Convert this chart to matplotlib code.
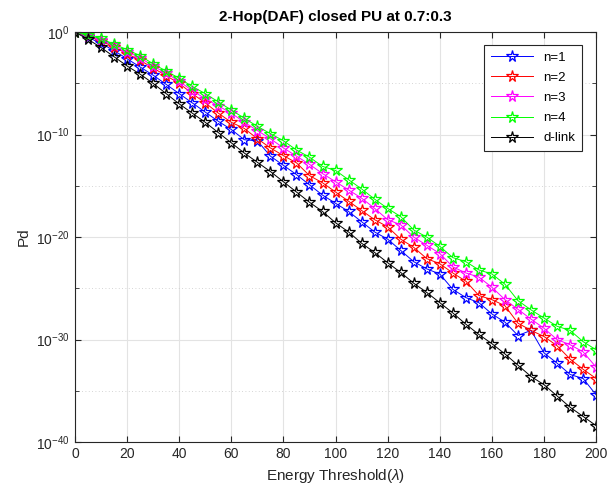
import numpy as np
import matplotlib
matplotlib.use('Agg')
import matplotlib.pyplot as plt
from matplotlib.ticker import FixedLocator, LogFormatterSciNotation, NullFormatter

plt.rcParams['font.family'] = ['Liberation Sans', 'DejaVu Sans']
plt.rcParams['mathtext.fontset'] = 'custom'
plt.rcParams['mathtext.rm'] = 'Liberation Sans'
plt.rcParams['mathtext.it'] = 'Liberation Sans:italic'

# energy threshold
lam = np.arange(0, 201, 5)

# log10(Pd)
pd_n1 = [0, -0.5, -1.1, -1.8, -2.6, -3.4, -4.2, -5.1, -6.0, -6.9, -7.8, -8.7, -9.5, -10.5,
         -10.6, -12.1, -13.0, -13.9, -14.9, -15.9, -16.7, -17.5, -18.5, -19.5, -20.2, -21.3,
         -22.4, -23.1, -23.6, -25.1, -25.9, -26.4, -27.5, -28.3, -29.6, -29.1, -31.3, -32.3,
         -33.4, -33.8, -35.4]
pd_n2 = [0, -0.4, -0.85, -1.45, -2.1, -2.75, -3.5, -4.25, -5.0, -6.0, -6.9, -7.9, -8.8, -9.4,
         -10.4, -11.3, -12.05, -12.75, -14.0, -14.7, -15.6, -16.5, -17.4, -18.3, -19.0, -20.2,
         -21.0, -22.1, -22.6, -23.5, -24.3, -25.7, -26.1, -26.7, -28.4, -29.1, -29.7, -30.6,
         -31.9, -32.9, -33.8]
pd_n3 = [0, -0.35, -0.75, -1.3, -1.9, -2.5, -3.3, -4.0, -4.8, -5.7, -6.5, -7.2, -7.9, -8.8,
         -9.6, -10.4, -11.3, -12.1, -12.9, -13.8, -14.6, -15.4, -16.2, -17.2, -18.3, -18.8,
         -20.0, -20.8, -21.6, -22.9, -23.5, -23.9, -24.9, -26.1, -27.05, -28.0, -28.9, -30.0,
         -30.5, -31.2, -32.7]
pd_n4 = [0, -0.3, -0.6, -1.2, -1.7, -2.3, -3.1, -3.8, -4.5, -5.3, -6.0, -6.8, -7.6, -8.4,
         -9.2, -9.9, -10.6, -11.5, -12.2, -13.1, -13.5, -14.4, -15.3, -16.3, -17.2, -18.0,
         -19.3, -20.0, -20.9, -22.0, -22.4, -23.2, -23.6, -24.6, -26.2, -27.1, -27.9, -28.7,
         -29.1, -30.2, -31.0]
pd_dlink = [0, -0.7, -1.5, -2.4, -3.3, -4.1, -5.0, -6.0, -7.0, -7.9, -8.8, -9.8, -10.8, -11.8,
            -12.7, -13.6, -14.6, -15.6, -16.6, -17.5, -18.6, -19.5, -20.6, -21.5, -22.5, -23.45,
            -24.5, -25.4, -26.4, -27.4, -28.5, -29.5, -30.4, -31.4, -32.5, -33.6, -34.4, -35.5,
            -36.6, -37.5, -38.4]

series = [pd_n1, pd_n2, pd_n3, pd_n4, pd_dlink]
labels = ['n=1', 'n=2', 'n=3', 'n=4', 'd-link']
colors = ['#0000ff', '#ff0000', '#ff00ff', '#00ff00', '#000000']

fig = plt.figure(figsize=(6.09, 4.94), dpi=100)
ax = fig.add_axes([0.123, 0.105, 0.856, 0.830])

for s, lab, c in zip(series, labels, colors):
    ax.semilogy(lam, 10.0 ** np.array(s), '-*', color=c, lw=0.7, ms=8.5,
                mfc='none', mec=c, mew=0.9, label=lab)

ax.set_xlim(0, 200)
ax.set_ylim(1e-40, 1e0)
ax.set_xticks(np.arange(0, 201, 20))
ax.yaxis.set_major_locator(FixedLocator([1e-40, 1e-30, 1e-20, 1e-10, 1e0]))
ax.yaxis.set_major_formatter(LogFormatterSciNotation())
ax.yaxis.set_minor_locator(FixedLocator([1e-35, 1e-25, 1e-15, 1e-5]))
ax.yaxis.set_minor_formatter(NullFormatter())

ax.grid(True, which='major', color='#e3e3e3', lw=0.8)
ax.grid(True, which='minor', axis='y', color='#c8c8c8', lw=0.6, ls=(0, (1, 3)))
ax.set_axisbelow(True)

ax.tick_params(which='both', direction='in', top=True, right=True, labelsize=10,
               colors='#262626', length=4)
ax.tick_params(which='minor', length=3)
for sp in ax.spines.values():
    sp.set_color('#262626')
    sp.set_linewidth(0.8)

ax.set_xlabel(r'Energy Threshold($\lambda$)', fontsize=11, color='#262626')
ax.set_ylabel('Pd', fontsize=11, color='#262626')
ax.set_title('2-Hop(DAF) closed PU at 0.7:0.3', fontsize=11, fontweight='bold', pad=8)

leg = ax.legend(loc='upper right', fontsize=9.5, fancybox=False, framealpha=1,
                edgecolor='#262626', borderpad=0.5, handlelength=3.2, labelspacing=0.6,
                bbox_to_anchor=(0.985, 0.985))
leg.get_frame().set_linewidth(0.8)

fig.savefig('out.png', dpi=100)
